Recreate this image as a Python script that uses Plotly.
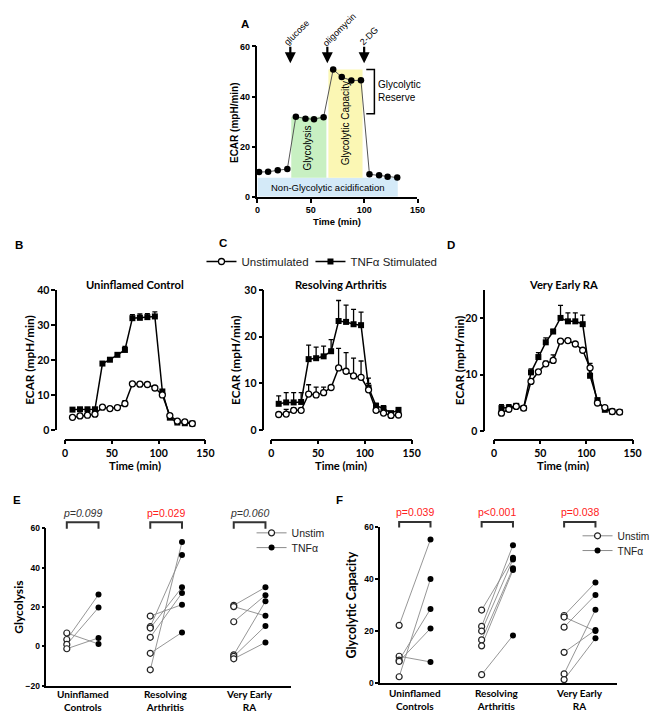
import plotly.graph_objects as go

W, H = 662, 712
def PX(x): return x / W
def PY(y): return 1 - y / H

# ---------------- Panel A data ----------------
a_time = [1.5, 10, 19, 28, 36, 45, 53, 62, 71, 79, 88, 97, 105, 114, 122, 131]
a_ecar = [9.9, 10.0, 10.6, 11.1, 32.0, 31.2, 31.0, 31.8, 50.8, 47.8, 46.4, 46.5, 9.0, 8.6, 8.0, 7.7]
a_injection_labels = ["glucose", "oligomycin", "2-DG"]
a_injection_time = [30.8, 65.5, 100.0]
a_phase_names = ["Non-Glycolytic acidification", "Glycolysis", "Glycolytic Capacity"]
a_phase_x0 = [0, 31.7, 66.5]
a_phase_x1 = [131.5, 64.6, 98.5]
a_phase_y0 = [0, 7.6, 7.6]
a_phase_y1 = [7.6, 32.0, 50.8]
a_phase_colors = ["#d4eaf8", "#c8f0c2", "#fbf7b4"]
a_reserve = [33.2, 50.8]

# ---------------- Panels B-D data ----------------
time_min = [8, 16, 24, 32, 40, 48, 56, 64, 72, 80, 88, 96, 104, 112, 120, 128, 136]

b_unstim = [3.6, 4.0, 4.2, 4.5, 6.5, 6.1, 6.4, 7.5, 13.2, 13.1, 13.0, 12.0, 10.0, 4.1, 2.5, 2.3, 1.8]
b_unstim_err = [0.3, 0.3, 0.3, 0.3, 0.4, 0.3, 0.3, 0.9, 0.6, 0.4, 0.4, 0.4, 0.4, 0.3, 0.3, 0.3, 0.2]
b_tnf = [5.8, 5.9, 5.9, 5.9, 19.0, 20.1, 21.5, 22.9, 32.0, 32.1, 32.3, 32.5, 11.0, 3.5, 2.1, 1.9, 1.8]
b_tnf_err = [0.4, 0.4, 0.4, 0.4, 0.5, 0.5, 0.5, 1.0, 1.0, 1.1, 1.0, 1.3, 0.5, 0.3, 0.3, 0.2, 0.2]

c_unstim = [3.3, 3.4, 4.2, 4.2, 7.7, 7.5, 8.0, 9.1, 13.3, 12.6, 11.6, 11.3, 8.6, 4.2, 3.6, 3.1, 3.2]
c_unstim_err = [0.3, 1.0, 0.5, 0.5, 2.0, 1.7, 1.2, 0.3, 4.2, 4.0, 3.8, 3.5, 1.4, 0.3, 0.3, 0.3, 0.3]
c_tnf = [5.6, 5.9, 5.9, 6.0, 15.2, 15.4, 15.8, 16.9, 23.4, 23.2, 22.7, 22.5, 9.1, 5.2, 4.6, 3.6, 4.3]
c_tnf_err = [1.7, 2.1, 2.1, 2.0, 3.0, 2.4, 2.2, 2.5, 4.4, 3.6, 3.2, 2.8, 2.0, 0.5, 0.6, 0.3, 0.5]

d_unstim = [3.2, 3.9, 4.4, 4.1, 8.8, 10.5, 11.9, 12.5, 15.9, 16.0, 15.4, 14.3, 11.2, 5.0, 4.2, 3.5, 3.4]
d_unstim_err = [0.3, 0.3, 0.3, 0.3, 0.4, 0.3, 0.5, 1.0, 0.3, 0.3, 0.3, 0.3, 0.8, 0.3, 0.3, 0.2, 0.2]
d_tnf = [4.1, 4.2, 4.5, 4.1, 10.4, 13.1, 15.7, 17.6, 20.0, 19.4, 19.4, 18.9, 9.8, 5.5, 3.8, 3.5, 3.4]
d_tnf_err = [0.6, 0.5, 0.4, 0.4, 0.6, 0.8, 0.8, 0.4, 2.2, 1.5, 1.5, 1.6, 0.4, 0.3, 0.3, 0.2, 0.2]

panel_titles = ["Uninflamed Control", "Resolving Arthritis", "Very Early RA"]

# ---------------- Panels E-F data ----------------
groups = ["Uninflamed<br>Controls", "Resolving<br>Arthritis", "Very Early<br>RA"]
e_unstim = [[6.8, 3.5, 1.0, -1.2],
            [15.4, 10.0, 9.3, 4.6, -3.5, -11.9],
            [20.8, 20.2, 12.5, -4.3, -5.1, -6.3]]
e_tnf = [[1.2, 26.3, 19.7, 4.3],
         [21.2, 46.4, 30.0, 27.1, 7.1, 53.0],
         [30.0, 15.5, 26.0, 22.9, 10.4, 2.0]]
e_pvals = ["p=0.099", "p=0.029", "p=0.060"]
e_sig = [False, True, False]

f_unstim = [[22.3, 10.4, 8.9, 8.4, 2.5],
            [28.2, 21.9, 20.1, 16.7, 14.4, 3.3],
            [26.1, 25.5, 21.6, 11.9, 3.6, 1.4]]
f_tnf = [[55.4, 8.2, 28.6, 21.1, 40.2],
         [48.3, 53.2, 47.7, 44.3, 43.6, 18.4],
         [38.8, 20.1, 34.0, 20.5, 28.3, 17.3]]
f_pvals = ["p=0.039", "p<0.001", "p=0.038"]
f_sig = [True, True, True]

PAIR_OFF = 0.19
ARIAL = "Liberation Sans"
BOLDF = "Lato"

fig = go.Figure()

# ---------------- Panel A ----------------
fig.add_trace(go.Scatter(x=a_time, y=a_ecar, mode="lines+markers",
                         line=dict(color="#555555", width=1),
                         marker=dict(size=6.5, color="black"),
                         xaxis="x", yaxis="y", showlegend=False, cliponaxis=False))

# ---------------- Panels B-D ----------------
bcd = [(b_unstim, b_unstim_err, b_tnf, b_tnf_err),
       (c_unstim, c_unstim_err, c_tnf, c_tnf_err),
       (d_unstim, d_unstim_err, d_tnf, d_tnf_err)]
for k, (u, ue, t, te) in enumerate(bcd):
    ax_n = k + 2
    fig.add_trace(go.Scatter(
        x=time_min, y=t, mode="lines+markers", name="TNFα Stimulated",
        line=dict(color="black", width=1.5),
        marker=dict(symbol="square", size=6, color="black"),
        error_y=dict(type="data", array=te, arrayminus=[0] * len(te), symmetric=False,
                     color="black", thickness=1.3, width=2.5),
        xaxis=f"x{ax_n}", yaxis=f"y{ax_n}", showlegend=(k == 1), legend="legend6",
        cliponaxis=False))
    fig.add_trace(go.Scatter(
        x=time_min, y=u, mode="lines+markers", name="Unstimulated",
        line=dict(color="black", width=1.5),
        marker=dict(symbol="circle", size=6, color="white", line=dict(color="black", width=1.3)),
        error_y=dict(type="data", array=ue, arrayminus=[0] * len(ue), symmetric=False,
                     color="black", thickness=1.3, width=2.5),
        xaxis=f"x{ax_n}", yaxis=f"y{ax_n}", showlegend=(k == 1), legend="legend",
        cliponaxis=False))

# ---------------- Panels E-F ----------------
for (uu, tt, axn, leg_u, leg_t) in [(e_unstim, e_tnf, 5, "legend2", "legend3"),
                                    (f_unstim, f_tnf, 6, "legend4", "legend5")]:
    ux, uy, tx, ty = [], [], [], []
    for gi in range(len(groups)):
        for u, t in zip(uu[gi], tt[gi]):
            fig.add_trace(go.Scatter(x=[gi - PAIR_OFF, gi + PAIR_OFF], y=[u, t], mode="lines",
                                     line=dict(color="#8a8a8a", width=0.9),
                                     xaxis=f"x{axn}", yaxis=f"y{axn}", showlegend=False,
                                     hoverinfo="skip", cliponaxis=False))
            ux.append(gi - PAIR_OFF); uy.append(u)
            tx.append(gi + PAIR_OFF); ty.append(t)
    fig.add_trace(go.Scatter(x=tx, y=ty, mode="markers",
                             marker=dict(size=6, color="black"),
                             xaxis=f"x{axn}", yaxis=f"y{axn}", showlegend=False, cliponaxis=False))
    fig.add_trace(go.Scatter(x=ux, y=uy, mode="markers",
                             marker=dict(size=6, color="white", line=dict(color="#222", width=1.2)),
                             xaxis=f"x{axn}", yaxis=f"y{axn}", showlegend=False, cliponaxis=False))
    fig.add_trace(go.Scatter(x=[None], y=[None], mode="lines+markers", name="Unstim",
                             line=dict(color="#8a8a8a", width=1),
                             marker=dict(size=6, color="white", line=dict(color="#222", width=1.2)),
                             xaxis=f"x{axn}", yaxis=f"y{axn}", legend=leg_u))
    fig.add_trace(go.Scatter(x=[None], y=[None], mode="lines+markers", name="TNFα",
                             line=dict(color="#8a8a8a", width=1),
                             marker=dict(size=6, color="black"),
                             xaxis=f"x{axn}", yaxis=f"y{axn}", legend=leg_t))

# ---------------- Axes ----------------
def axis_common(**kw):
    d = dict(showgrid=False, zeroline=False, showline=True, linecolor="black", linewidth=1.5,
             ticks="outside", ticklen=4, tickwidth=1.5, tickcolor="black")
    d.update(kw)
    return d

A_DOM, A_RANGE = (251, 414), (0, 150)
layout_axes = {}
layout_axes["xaxis"] = axis_common(domain=[PX(A_DOM[0]), PX(A_DOM[1])], range=list(A_RANGE), anchor="y",
                                   tickvals=[0, 50, 100, 150],
                                   tickfont=dict(family=ARIAL, size=9, color="black", weight="bold"))
layout_axes["yaxis"] = axis_common(domain=[PY(186), PY(33)], range=[0, 60], anchor="x",
                                   tickvals=[0, 20, 40, 60],
                                   tickfont=dict(family=ARIAL, size=9, color="black", weight="bold"))
bcd_geom = [  # x0, x1, y_top, y_bottom, yline_x, ymax, yticks
    (55, 198, 281, 423, 46, 40, [0, 10, 20, 30, 40]),
    (265, 408, 281, 423, 257, 30, [0, 10, 20, 30]),
    (492, 633, 280.3, 424.5, 482, 25, [0, 10, 20]),
]
XLINE_Y = 433
for k, (x0, x1, yt, yb, ylx, ymax, yticks) in enumerate(bcd_geom):
    n = k + 2
    layout_axes[f"xaxis{n}"] = axis_common(domain=[PX(x0), PX(x1)], range=[0, 150], anchor="free",
                                           position=PY(XLINE_Y), tickvals=[0, 50, 100, 150],
                                           tickfont=dict(family=BOLDF, size=10.5, color="black", weight="bold"))
    layout_axes[f"yaxis{n}"] = axis_common(domain=[PY(yb), PY(yt)], range=[0, ymax], anchor="free",
                                           position=PX(ylx), tickvals=yticks,
                                           tickfont=dict(family=BOLDF, size=10.5, color="black", weight="bold"))
E_DOM, E_RANGE, E_Y = (36, 285), (-0.435, 2.494), (683.3, 523)
F_DOM, F_RANGE, F_Y = (376, 617), (-0.42, 2.449), (680.7, 522.3)
for n, dom, rng, yd, yr, yt in [(5, E_DOM, E_RANGE, E_Y, [-20, 60], [-20, 0, 20, 40, 60]),
                                 (6, F_DOM, F_RANGE, F_Y, [0, 60], [0, 20, 40, 60])]:
    layout_axes[f"xaxis{n}"] = axis_common(domain=[PX(dom[0]), PX(dom[1])], range=list(rng),
                                           anchor=f"y{n}", ticks="", tickvals=[0, 1, 2],
                                           showticklabels=False)
    layout_axes[f"yaxis{n}"] = axis_common(domain=[PY(yd[0]), PY(yd[1])], range=yr, anchor=f"x{n}",
                                           tickvals=yt, ticklen=3,
                                           tickfont=dict(family=ARIAL, size=8.5, color="black", weight="bold"))

def map_px(v, dom, rng):
    return dom[0] + (v - rng[0]) / (rng[1] - rng[0]) * (dom[1] - dom[0])

# ---------------- Shapes ----------------
shapes = []
for x0, x1, y0, y1, c in zip(a_phase_x0, a_phase_x1, a_phase_y0, a_phase_y1, a_phase_colors):
    shapes.append(dict(type="rect", xref="x", yref="y", x0=x0, x1=x1, y0=y0, y1=y1,
                       fillcolor=c, line=dict(width=0), layer="below"))
shapes.append(dict(type="path", xref="x", yref="y",
                   path=f"M102,{a_reserve[1]} L109.6,{a_reserve[1]} L109.6,{a_reserve[0]} L102,{a_reserve[0]}",
                   line=dict(color="black", width=1.5)))
for dom, rng, ytop, ybot in [(E_DOM, E_RANGE, 517, 523.5), (F_DOM, F_RANGE, 516.7, 522.2)]:
    for gi in range(len(groups)):
        xl = PX(map_px(gi - PAIR_OFF, dom, rng))
        xr = PX(map_px(gi + PAIR_OFF, dom, rng))
        shapes.append(dict(type="path", xref="paper", yref="paper",
                           path=f"M{xl},{PY(ybot)} L{xl},{PY(ytop)} L{xr},{PY(ytop)} L{xr},{PY(ybot)}",
                           line=dict(color="#333333", width=2)))

# ---------------- Annotations ----------------
ann = []
def txt(x, y, s, size=10, family=ARIAL, bold=False, color="black", angle=0, xanchor="center",
        yanchor="middle", italic=False, xref="paper", yref="paper", align="center", pad=1):
    f = dict(family=family, size=size, color=color)
    if bold:
        f["weight"] = "bold"
    if italic:
        f["style"] = "italic"
    ann.append(dict(x=x, y=y, xref=xref, yref=yref, text=s, showarrow=False, font=f,
                    textangle=angle, xanchor=xanchor, yanchor=yanchor, align=align, borderpad=pad))

for L, x, y in [("A", 238, 10), ("B", 8, 235), ("C", 216, 233), ("D", 448, 235), ("E", 6, 494), ("F", 335, 494)]:
    txt(PX(x), PY(y), L, size=11.5, bold=True)

# Panel A labels
txt(47.8, 19.5, "Glycolysis", size=10, angle=-90, xref="x", yref="y")
txt(82.5, 29.5, "Glycolytic Capacity", size=10, angle=-90, xref="x", yref="y")
txt(66, 3.6, "Non-Glycolytic acidification", size=9.5, xref="x", yref="y")
txt(111.5, 42.4, "Glycolytic<br>Reserve", size=10, xanchor="left", align="left", xref="x", yref="y")
label_dx = [5.5, 11.0, 4.5]     # label centre offset right of arrow (min)
label_py = [19, 16, 22]         # label centre height (px from top)
for lab, t, dx, py in zip(a_injection_labels, a_injection_time, label_dx, label_py):
    ann.append(dict(x=t, y=53.3, xref="x", yref="y", ax=0, ay=-18, text="", showarrow=True,
                    arrowhead=2, arrowsize=1, arrowwidth=2.2, arrowcolor="black"))
    txt(PX(map_px(t + dx, A_DOM, A_RANGE)), PY(py), lab, size=9, angle=-45)
txt(PX(227), PY(110), "ECAR (mpH/min)", size=10, bold=True, angle=-90)
txt(PX(332), PY(211), "Time (min)", size=9.5, bold=True)

# Panels B-D titles/labels
ylab_x = [18, 228, 457]
for k, (x0, x1, yt, yb, ylx, ymax, yticks) in enumerate(bcd_geom):
    cx = (x0 + x1) / 2
    txt(PX(cx), PY(275), panel_titles[k], size=11.2, family=BOLDF, bold=True)
    txt(PX(cx), PY(459), "Time (min)", size=11.2, family=BOLDF, bold=True)
    txt(PX(ylab_x[k]), PY((yt + yb) / 2), "ECAR (mpH/min)", size=11.8, family=BOLDF, bold=True, angle=-90)

# Panels E-F labels
txt(PX(8), PY(603), "Glycolysis", size=12, family=BOLDF, bold=True, angle=-90)
txt(PX(347), PY(601), "Glycolytic Capacity", size=12.5, family=BOLDF, bold=True, angle=-90)
for dom, rng, pv, sig, yy, lab_y in [(E_DOM, E_RANGE, e_pvals, e_sig, 508, 698),
                                     (F_DOM, F_RANGE, f_pvals, f_sig, 507, 697)]:
    for gi in range(len(groups)):
        cx = PX(map_px(gi, dom, rng))
        txt(cx, PY(yy), pv[gi], size=10.5, color="#ff2020" if sig[gi] else "#333333",
            italic=not sig[gi])
        txt(cx, PY(lab_y), groups[gi], size=10, family=BOLDF, bold=True, pad=0)

leg_common = dict(xanchor="left", yanchor="top", bgcolor="rgba(0,0,0,0)", itemwidth=30)
fig.update_layout(
    width=W, height=H, margin=dict(l=0, r=0, t=0, b=0),
    paper_bgcolor="white", plot_bgcolor="rgba(0,0,0,0)",
    font=dict(family=ARIAL, color="black"),
    shapes=shapes, annotations=ann,
    legend=dict(x=PX(194), y=PY(237), font=dict(family=ARIAL, size=11.5, color="#222"), **leg_common),
    legend6=dict(x=PX(305), y=PY(237), font=dict(family=ARIAL, size=11.5, color="#222"), **leg_common),
    legend2=dict(x=PX(245), y=PY(513), font=dict(family=ARIAL, size=10.5, color="#222"), **leg_common),
    legend3=dict(x=PX(245), y=PY(528), font=dict(family=ARIAL, size=10.5, color="#222"), **leg_common),
    legend4=dict(x=PX(577), y=PY(516), font=dict(family=ARIAL, size=10.2, color="#222"), **leg_common),
    legend5=dict(x=PX(577), y=PY(531), font=dict(family=ARIAL, size=10.2, color="#222"), **leg_common),
    **layout_axes,
)

fig.write_html("out.html")
